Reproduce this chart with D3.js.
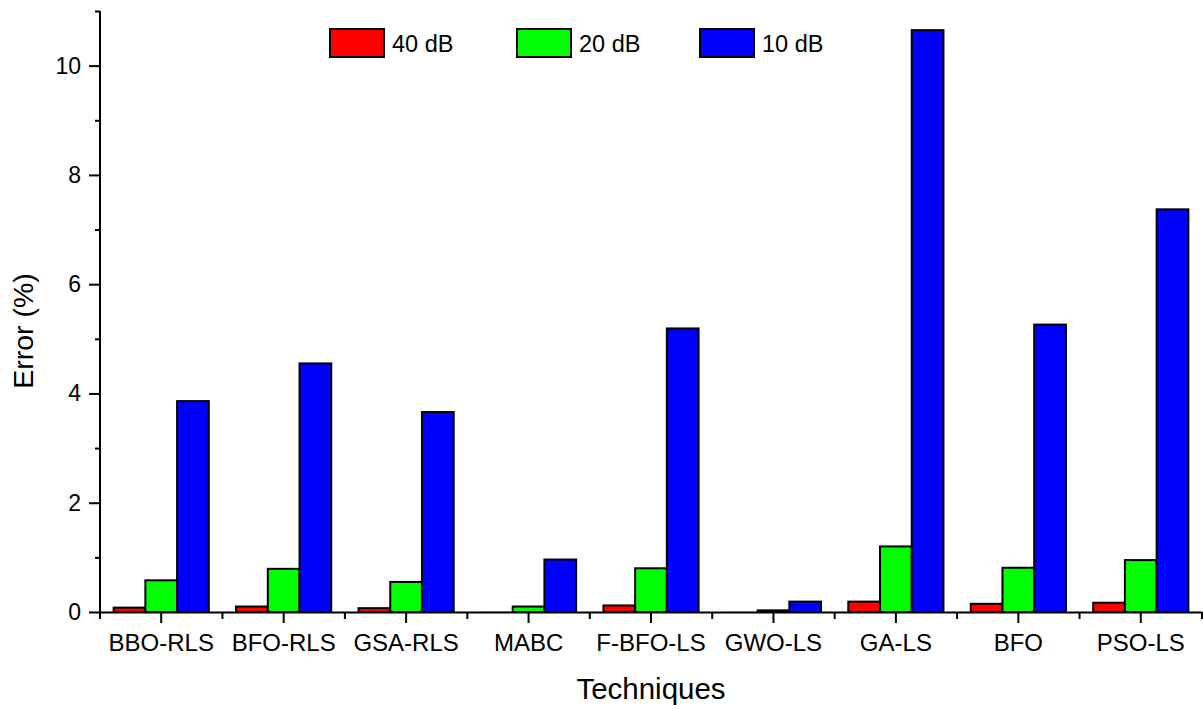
<!DOCTYPE html>
<html>
<head>
<meta charset="utf-8">
<script src="https://cdn.jsdelivr.net/npm/d3@7"></script>
<style>
  body { margin: 0; background: #fff; }
  svg { display: block; font-family: "Liberation Sans", Arial, sans-serif; }
</style>
</head>
<body>
<svg id="chart" width="1203" height="709"></svg>
<script>
const categories = ['BBO-RLS', 'BFO-RLS', 'GSA-RLS', 'MABC', 'F-BFO-LS', 'GWO-LS', 'GA-LS', 'BFO', 'PSO-LS'];
const seriesNames = ['40 dB', '20 dB', '10 dB'];
const seriesColors = ['#ff0000', '#00ff00', '#0000ff'];
const err40 = [0.08, 0.10, 0.07, 0.005, 0.12, 0.003, 0.19, 0.15, 0.17];
const err20 = [0.58, 0.79, 0.55, 0.10, 0.80, 0.03, 1.20, 0.81, 0.95];
const err10 = [3.86, 4.55, 3.66, 0.96, 5.19, 0.19, 10.65, 5.26, 7.37];
const majorTicks = [0, 2, 4, 6, 8, 10];
const minorTicks = [1, 3, 5, 7, 9, 11];

const svg = d3.select('#chart');
const mLeft = 100, mRight = 1202, mTop = 11, mBottom = 612;

const x0 = d3.scaleBand().domain(categories).range([mLeft, mRight]).paddingInner(0).paddingOuter(0);
const x1 = d3.scaleBand().domain(seriesNames).range([0, x0.bandwidth()]).paddingInner(0).paddingOuter(0.43);
const y = d3.scaleLinear().domain([0, 11]).range([mBottom, mTop]);

const rows = categories.map((c, i) => ({ cat: c, vals: [err40[i], err20[i], err10[i]] }));

// bars
const g = svg.append('g')
  .selectAll('g')
  .data(rows)
  .join('g')
  .attr('transform', d => `translate(${x0(d.cat)},0)`);

g.selectAll('rect')
  .data(d => d.vals.map((v, k) => ({ s: seriesNames[k], v: v, k: k })))
  .join('rect')
  .attr('x', d => x1(d.s))
  .attr('y', d => y(d.v))
  .attr('width', x1.bandwidth())
  .attr('height', d => y(0) - y(d.v))
  .attr('fill', d => seriesColors[d.k])
  .attr('stroke', d => d.v < 0.02 ? 'none' : '#000')
  .attr('stroke-width', 2);

// y axis
const yAxis = svg.append('g')
  .attr('transform', `translate(${mLeft},0)`)
  .call(d3.axisLeft(y).tickValues(majorTicks).tickSize(11).tickPadding(8).tickFormat(d3.format('d')));
yAxis.select('.domain').attr('d', `M0,${mBottom}V${mTop}`).attr('stroke-width', 2);
yAxis.selectAll('.tick line').attr('stroke-width', 2);
yAxis.selectAll('.tick text').attr('font-size', 23).attr('fill', '#000');

svg.append('g')
  .attr('transform', `translate(${mLeft},0)`)
  .call(d3.axisLeft(y).tickValues(minorTicks).tickSize(5).tickFormat(''))
  .call(a => a.select('.domain').remove())
  .selectAll('.tick line').attr('stroke-width', 2);

// x axis
const xAxis = svg.append('g')
  .attr('transform', `translate(0,${mBottom})`)
  .call(d3.axisBottom(x0).tickSize(11).tickPadding(11).tickSizeOuter(0));
xAxis.select('.domain').attr('stroke-width', 2);
xAxis.selectAll('.tick line').attr('stroke-width', 2);
xAxis.selectAll('.tick text').attr('font-size', 24).attr('fill', '#000');

const edges = categories.map(c => x0(c)).concat([mRight]);
svg.append('g')
  .selectAll('line')
  .data(edges)
  .join('line')
  .attr('x1', d => d).attr('x2', d => d)
  .attr('y1', mBottom).attr('y2', mBottom + 7)
  .attr('stroke', '#000').attr('stroke-width', 2);

// axis titles
svg.append('text')
  .attr('x', 651)
  .attr('y', 699)
  .attr('text-anchor', 'middle')
  .attr('font-size', 29.5)
  .text('Techniques');

svg.append('text')
  .attr('transform', 'translate(33,331) rotate(-90)')
  .attr('text-anchor', 'middle')
  .attr('font-size', 28.5)
  .text('Error (%)');

// legend
const legendX = [330, 517, 700];
const lg = svg.append('g')
  .selectAll('g')
  .data(seriesNames)
  .join('g')
  .attr('transform', (d, i) => `translate(${legendX[i]},29)`);
lg.append('rect')
  .attr('width', 54).attr('height', 28)
  .attr('fill', (d, i) => seriesColors[i])
  .attr('stroke', '#000').attr('stroke-width', 2);
lg.append('text')
  .attr('x', 62).attr('y', 23)
  .attr('font-size', 23.5)
  .text(d => d);
</script>
</body>
</html>
